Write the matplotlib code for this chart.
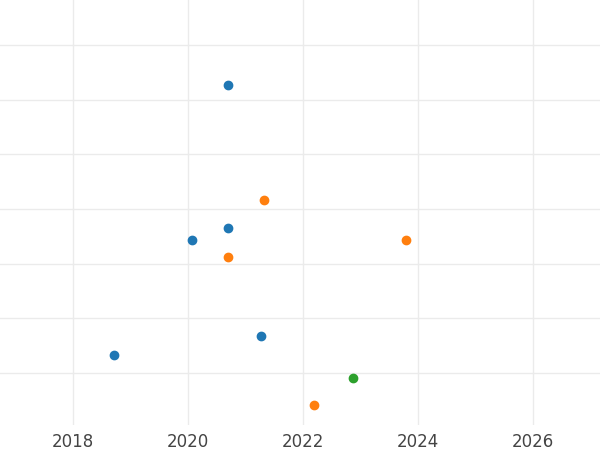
import matplotlib
matplotlib.use("Agg")
import matplotlib.pyplot as plt

blue_x = [2020.70, 2020.07, 2020.70, 2021.27, 2018.71]
blue_y = [6.27, 3.43, 3.65, 1.68, 1.33]
orange_x = [2021.32, 2020.70, 2023.79, 2022.19]
orange_y = [4.16, 3.12, 3.43, 0.41]
green_x = [2022.87]
green_y = [0.91]

fig = plt.figure(figsize=(6, 4.5), dpi=100)
ax = fig.add_axes([0, 0.056, 1, 0.944])

ax.scatter(blue_x, blue_y, s=36, color="#1f77b4", zorder=3)
ax.scatter(orange_x, orange_y, s=36, color="#ff7f0e", zorder=3)
ax.scatter(green_x, green_y, s=36, color="#2ca02c", zorder=3)

ax.set_xlim(2016.73, 2027.17)
ax.set_ylim(0.05, 7.82)
ax.set_xticks([2018, 2020, 2022, 2024, 2026])
ax.set_yticks(range(1, 8))
ax.set_yticklabels([])
ax.grid(True, color="#ebebeb", linewidth=1)
ax.set_axisbelow(True)
for s in ax.spines.values():
    s.set_visible(False)
ax.tick_params(length=0, labelsize=12, labelcolor="#444444", pad=6)

fig.savefig("out.png")
